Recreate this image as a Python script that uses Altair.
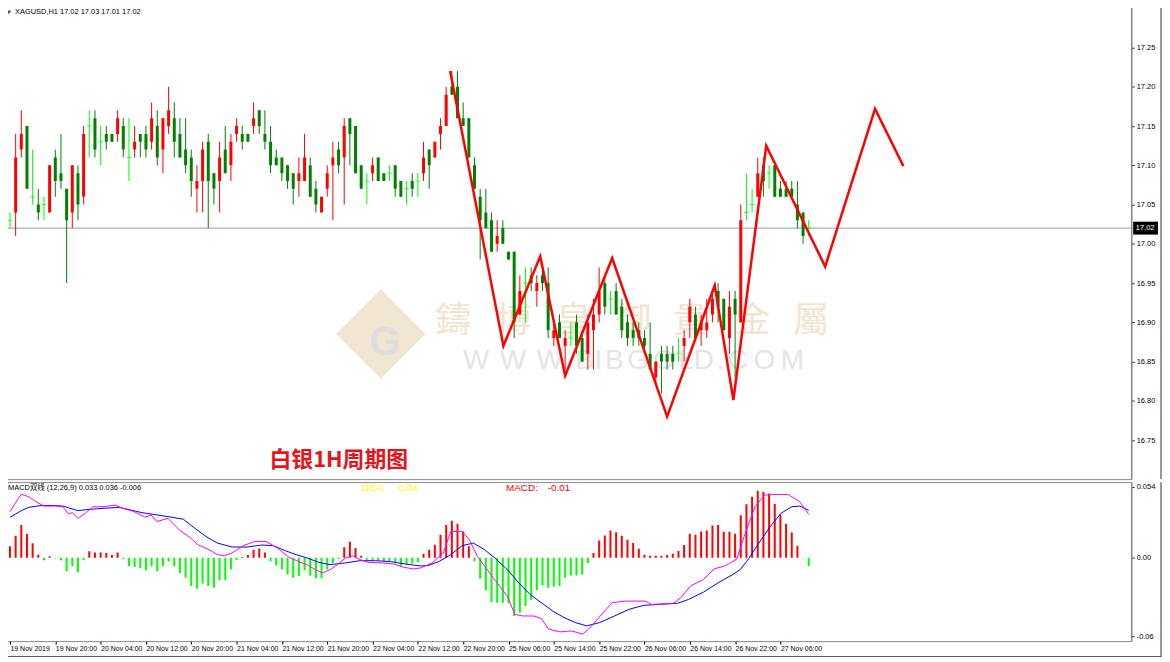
import json
import altair as alt
import pandas as pd

# ---------------- data ----------------
opens = [17.03,17.04,17.12,17.15,17.06,17.05,17.05,17.04,17.11,17.09,
         17.07,17.04,17.09,17.06,17.15,17.16,17.13,17.14,17.14,17.14,
         17.15,17.11,17.12,17.14,17.14,17.13,17.15,17.12,17.15,17.16,
         17.14,17.12,17.11,17.07,17.08,17.13,17.09,17.08,17.12,17.10,
         17.14,17.14,17.14,17.15,17.17,17.14,17.13,17.11,17.11,17.10,
         17.09,17.08,17.08,17.10,17.07,17.04,17.07,17.10,17.12,17.11,
         17.16,17.15,17.10,17.08,17.09,17.11,17.09,17.09,17.10,17.08,
         17.07,17.08,17.08,17.09,17.12,17.11,17.14,17.15,17.20,17.20,
         17.16,17.16,17.10,17.06,17.04,17.03,17.00,17.02,16.99,16.99,
         16.91,16.95,16.96,16.94,16.96,16.95,16.88,16.90,16.87,16.88,
         16.90,16.88,16.86,16.89,16.91,16.95,16.93,16.94,16.92,16.90,
         16.89,16.89,16.88,16.86,16.83,16.86,16.86,16.86,16.86,16.87,
         16.90,16.91,16.89,16.89,16.91,16.94,16.93,16.88,16.93,16.90,
         17.04,17.05,17.06,17.10,17.09,17.10,17.07,17.07,17.07,17.05,
         17.04,17.02]
highs = [17.04,17.14,17.17,17.15,17.12,17.07,17.06,17.10,17.12,17.14,
         17.07,17.10,17.10,17.15,17.17,17.17,17.15,17.15,17.14,17.17,
         17.16,17.16,17.15,17.14,17.15,17.18,17.17,17.16,17.20,17.18,
         17.16,17.16,17.12,17.10,17.13,17.14,17.09,17.13,17.15,17.14,
         17.16,17.15,17.14,17.18,17.17,17.17,17.15,17.12,17.11,17.10,
         17.09,17.11,17.14,17.11,17.08,17.06,17.10,17.13,17.13,17.16,
         17.16,17.15,17.10,17.09,17.11,17.11,17.09,17.10,17.10,17.08,
         17.08,17.09,17.09,17.13,17.12,17.13,17.16,17.20,17.22,17.22,
         17.18,17.16,17.11,17.07,17.07,17.04,17.03,17.03,16.99,16.99,
         16.96,16.97,16.97,16.96,16.97,16.97,16.90,16.91,16.89,16.90,
         16.91,16.89,16.91,16.93,16.97,16.96,16.94,16.95,16.93,16.91,
         16.90,16.90,16.89,16.90,16.85,16.87,16.87,16.87,16.88,16.89,
         16.93,16.92,16.91,16.93,16.94,16.95,16.93,16.94,16.94,17.05,
         17.09,17.07,17.11,17.11,17.10,17.10,17.08,17.08,17.08,17.08,
         17.04,17.03]
lows = [17.02,17.01,17.11,17.07,17.05,17.03,17.03,17.04,17.06,17.07,
        16.95,17.02,17.03,17.05,17.11,17.11,17.10,17.12,17.13,17.13,
        17.11,17.08,17.11,17.11,17.11,17.12,17.10,17.09,17.14,17.11,
        17.11,17.09,17.06,17.04,17.04,17.02,17.05,17.04,17.09,17.08,
        17.13,17.12,17.13,17.14,17.14,17.12,17.09,17.10,17.08,17.07,
        17.05,17.06,17.08,17.06,17.04,17.04,17.06,17.03,17.09,17.05,
        17.10,17.09,17.07,17.05,17.08,17.08,17.08,17.08,17.06,17.06,
        17.05,17.06,17.06,17.08,17.07,17.11,17.12,17.15,17.19,17.16,
        17.15,17.11,17.07,16.98,17.02,16.99,16.99,17.00,16.98,16.88,
        16.91,16.90,16.94,16.92,16.94,16.88,16.87,16.88,16.84,16.87,
        16.86,16.85,16.84,16.84,16.90,16.91,16.91,16.91,16.88,16.87,
        16.87,16.87,16.86,16.84,16.82,16.81,16.84,16.84,16.85,16.85,
        16.88,16.88,16.87,16.88,16.90,16.90,16.89,16.86,16.83,16.90,
        17.03,17.04,17.06,17.06,17.07,17.06,17.06,17.06,17.06,17.02,
        17.00,17.01]
closes = [17.03,17.11,17.14,17.07,17.06,17.04,17.05,17.10,17.08,17.08,
          17.03,17.10,17.05,17.14,17.15,17.12,17.13,17.13,17.13,17.16,
          17.12,17.11,17.13,17.13,17.12,17.16,17.11,17.16,17.17,17.13,
          17.11,17.10,17.08,17.08,17.12,17.08,17.07,17.11,17.09,17.13,
          17.15,17.13,17.13,17.16,17.15,17.13,17.10,17.10,17.09,17.08,
          17.07,17.09,17.11,17.06,17.05,17.06,17.09,17.11,17.10,17.15,
          17.14,17.09,17.07,17.08,17.10,17.08,17.08,17.09,17.07,17.06,
          17.07,17.07,17.08,17.11,17.10,17.13,17.15,17.19,17.19,17.16,
          17.15,17.11,17.07,17.03,17.02,16.99,17.01,17.00,16.98,16.90,
          16.94,16.95,16.95,16.95,16.95,16.89,16.89,16.88,16.88,16.88,
          16.87,16.85,16.90,16.91,16.94,16.92,16.93,16.91,16.89,16.88,
          16.88,16.88,16.87,16.84,16.85,16.85,16.85,16.85,16.86,16.88,
          16.92,16.88,16.90,16.90,16.93,16.92,16.89,16.92,16.91,17.03,
          17.04,17.05,17.09,17.08,17.09,17.06,17.06,17.06,17.06,17.03,
          17.01,17.02]

macd_hist = [0.0086,0.0166,0.0249,0.018,0.011,0.0023,-0.002,0.001,-0.0005,-0.002,
             -0.0103,-0.0065,-0.011,-0.002,0.0048,0.004,0.004,0.0035,0.002,0.004,
             -0.001,-0.0065,-0.007,-0.008,-0.0096,-0.0065,-0.0103,-0.0065,-0.003,-0.0065,
             -0.0116,-0.0153,-0.0216,-0.0236,-0.0196,-0.0216,-0.0229,-0.0171,-0.0171,-0.009,
             -0.002,0.0005,0.002,0.006,0.007,0.004,-0.0028,-0.006,-0.009,-0.0128,
             -0.0153,-0.014,-0.0096,-0.0136,-0.0156,-0.0156,-0.009,-0.004,-0.001,0.008,
             0.012,0.0073,0.0015,-0.0015,-0.002,-0.002,-0.0028,-0.0028,-0.0035,-0.0065,
             -0.0053,-0.0045,-0.0035,0.003,0.006,0.0098,0.0174,0.0249,0.028,0.0257,
             0.0199,0.0086,-0.0028,-0.016,-0.0247,-0.0337,-0.0342,-0.0342,-0.0347,-0.0443,
             -0.0418,-0.0367,-0.0322,-0.0247,-0.0211,-0.0229,-0.0221,-0.0216,-0.0153,-0.0136,
             -0.0136,-0.0128,-0.004,0.0035,0.0131,0.0169,0.0206,0.0194,0.0166,0.0136,
             0.0111,0.0068,0.0023,0.0015,0.0015,0.0015,0.002,0.003,0.005,0.0096,
             0.0181,0.0174,0.0199,0.0206,0.0244,0.0249,0.0196,0.0196,0.0181,0.0322,
             0.0405,0.0463,0.0508,0.0501,0.0488,0.0408,0.0325,0.0257,0.0191,0.0091,
             -0.0005,-0.0063]

dif_pos = [0,1.3,2,3.3,4.6,6,8,9.3,10.3,11,12,13.3,14.6,16.6,18.6,19.9,21.9,23.9,24.9,25.9,
           27.9,29.9,31.9,33.2,35.2,36.6,37.9,39.2,41.2,43.2,45.2,47.2,49.2,51.2,52.5,53.9,
           55.2,56.5,57.8,59.2,60.5,61.8,63.2,65.8,67.8,69.2,71.2,72.5,74.5,76.5,77.8,79.8,
           81.1,82.5,85.1,87.8,89.1,90.5,92.5,93.8,95.1,97.1,99.1,101.1,102.7,104.7,106.3,
           108.6,112.2,113.2,117.1,118.4,120.1,122.4,124.3,126.3,128.3,129.6,131.5,133.2,
           134.8,137.4,139.4,141]
dif_val = [0.035,0.0438,0.0483,0.0463,0.0425,0.0392,0.0392,0.0387,0.0332,0.0342,
           0.0299,0.0337,0.0387,0.0387,0.04,0.0375,0.035,0.0307,0.0325,0.0274,
           0.0299,0.0211,0.0148,0.0098,0.006,0.0023,0.0015,0.0035,0.0091,0.0123,
           0.0123,0.0073,0.0005,-0.0035,-0.0055,-0.0091,-0.0116,-0.0091,-0.0053,-0.0003,
           0.0015,-0.0015,-0.0035,-0.004,-0.0048,-0.007,-0.0086,-0.0078,-0.004,0.0035,
           0.0199,0.0199,0.0136,0.001,-0.0141,-0.0292,-0.043,-0.0443,-0.0443,-0.0463,
           -0.0543,-0.0564,-0.0556,-0.0581,-0.0518,-0.0418,-0.0342,-0.033,-0.033,-0.0355,
           -0.0347,-0.0304,-0.0216,-0.0166,-0.0086,-0.006,-0.001,0.0161,0.0387,0.0475,
           0.048,0.048,0.0425,0.033]

dea_pos = [0,2,3.3,5.3,7.3,9.3,12,14,16.6,19.3,21.3,23.3,25.9,28.6,30.6,32.6,34.6,36.6,39.2,
           41.9,44.5,46.5,48.5,50.5,52.5,54.5,56.5,59.2,61.8,64.5,67.2,69.8,72.5,73.8,75.8,
           77.8,79.8,81.8,83.8,85.8,87.8,89.8,91.8,93.8,95.8,97.8,99.8,101.8,104.1,106.7,
           109.3,111.9,114.5,117.8,119.8,122.4,125,127.6,128.9,130.2,132.2,134.2,136.1,138,
           139.4,141]
dea_val = [0.0307,0.0357,0.0382,0.0395,0.0397,0.0392,0.0357,0.0367,0.0375,0.0382,
           0.0362,0.0342,0.0325,0.0307,0.0292,0.0224,0.0161,0.0111,0.0081,0.0081,
           0.0096,0.0091,0.0055,0.0023,-0.0003,-0.0035,-0.0053,-0.004,-0.0023,-0.0023,
           -0.003,-0.0048,-0.0063,-0.006,-0.0028,0.0023,0.0091,0.0111,0.006,-0.001,
           -0.0091,-0.0191,-0.0279,-0.0342,-0.0405,-0.0455,-0.0493,-0.0518,-0.0493,-0.0443,
           -0.0392,-0.0362,-0.0355,-0.0347,-0.0317,-0.0262,-0.0191,-0.0128,-0.0091,-0.002,
           0.0111,0.0236,0.0337,0.0387,0.0392,0.036]

zigzag_pos = [77.7, 87.1, 93.6, 98.0, 106.3, 116.0, 124.4, 127.7, 133.5, 143.9, 152.7, 157.7]
zigzag_price = [17.22, 16.87, 16.984, 16.832, 16.982, 16.78, 16.947, 16.801, 17.125, 16.971, 17.172, 17.099]

time_labels = ['19 Nov 2019', '19 Nov 20:00', '20 Nov 04:00', '20 Nov 12:00', '20 Nov 20:00',
               '21 Nov 04:00', '21 Nov 12:00', '21 Nov 20:00', '22 Nov 04:00', '22 Nov 12:00',
               '22 Nov 20:00', '25 Nov 06:00', '25 Nov 14:00', '25 Nov 22:00', '26 Nov 06:00',
               '26 Nov 14:00', '26 Nov 22:00', '27 Nov 06:00']
price_ticks = [16.75, 16.80, 16.85, 16.90, 16.95, 17.00, 17.05, 17.10, 17.15, 17.20, 17.25]
macd_ticks = [0.054, 0.0, -0.06]
last_price = 17.02
header_text = 'XAGUSD,H1  17.02 17.03 17.01 17.02'
macd_header = 'MACD双线 (12,26,9) 0.033 0.036 -0.006'
title_text = '白银1H周期图'
watermark_cn = ['鑄', '博', '皇', '御', '貴', '金', '屬']
watermark_en = list('WWW.BIBGOLD.COM')

# ---------------- frames ----------------
n = len(opens)
def direction(o, c):
    if c > o:
        return 'up'
    if c < o:
        return 'down'
    return 'doji'

candles = pd.DataFrame({
    'i': list(range(n)), 'o': opens, 'h': highs, 'l': lows, 'c': closes,
    'dir': [direction(o, c) for o, c in zip(opens, closes)],
})
hist_df = pd.DataFrame({'i': list(range(n)), 'v': macd_hist,
                        'sgn': ['pos' if v >= 0 else 'neg' for v in macd_hist]})
dif_df = pd.DataFrame({'pos': dif_pos, 'v': dif_val})
dea_df = pd.DataFrame({'pos': dea_pos, 'v': dea_val})
zz_df = pd.DataFrame({'pos': zigzag_pos, 'p': zigzag_price, 'k': list(range(len(zigzag_pos)))})
one = pd.DataFrame({'k': [0]})

# ---------------- scales / axes ----------------
W = 1134
H_TOP = 475
H_MACD = 160
FONT = 'Liberation Sans'
CJK = 'Noto Sans CJK SC'

x_scale = alt.Scale(domain=[-0.174, 197.04], nice=False, zero=False)
y_price = alt.Scale(domain=[16.7004, 17.3016], nice=False, zero=False)
y_macd = alt.Scale(domain=[-0.0634, 0.0574], nice=False, zero=False)

price_axis = alt.Axis(orient='right', values=price_ticks, format='.2f', title=None, grid=False,
                      domain=True, domainColor='#8a8a8a', domainWidth=1.5, ticks=True, tickSize=3,
                      tickColor='#222', labelFont=FONT, labelFontSize=7.5, labelColor='#000',
                      labelPadding=2)
macd_axis = alt.Axis(orient='right', values=macd_ticks, title=None, grid=False,
                     labelExpr="datum.value > 0.04 ? '0.054' : (datum.value < -0.04 ? '-0.06' : '0.00')",
                     domain=True, domainColor='#8a8a8a', domainWidth=1.5, ticks=True, tickSize=3,
                     tickColor='#222', labelFont=FONT, labelFontSize=7.5, labelColor='#000',
                     labelPadding=2)
time_axis = alt.Axis(orient='bottom', values=list(range(0, 8 * len(time_labels), 8)),
                     labelExpr=json.dumps(time_labels) + '[round(datum.value/8)]',
                     labelAlign='left', labelBaseline='top', labelPadding=0, tickSize=3,
                     tickColor='#000', domain=False, grid=False, title=None, labelFont=FONT,
                     labelFontSize=7, labelColor='#000', labelOverlap=False, labelFlush=False)

def XT(field):
    return alt.X(field, type='quantitative', scale=x_scale, axis=None)

def YP(field):
    return alt.Y(field, type='quantitative', scale=y_price, axis=price_axis)

def XM(field):
    return alt.X(field, type='quantitative', scale=x_scale, axis=time_axis)

def YM(field):
    return alt.Y(field, type='quantitative', scale=y_macd, axis=macd_axis)

candle_color = alt.Color('dir:N', legend=None,
                         scale=alt.Scale(domain=['up', 'down', 'doji'],
                                         range=['#ff0000', '#008000', '#00ff00']))

# ---------------- top panel ----------------
layers = []
# watermark logo
layers.append(alt.Chart(one).mark_point(
    shape='M0,-1L1,0L0,1L-1,0Z', filled=True, color='#f1e6d2', opacity=1, size=8100
).encode(x=alt.value(379), y=alt.value(329)))
layers.append(alt.Chart(one).mark_text(
    text='G', font=FONT, fontSize=40, fontWeight='bold', color='#dedede', align='center', baseline='middle'
).encode(x=alt.value(383), y=alt.value(338)))
cn_x = [452, 513, 573, 633, 691, 753, 812]
for ch, xv in zip(watermark_cn, cn_x):
    layers.append(alt.Chart(one).mark_text(
        text=ch, font='Noto Sans CJK TC', fontSize=36, color='#f2e4d0', align='center', baseline='middle'
    ).encode(x=alt.value(xv), y=alt.value(316)))
en_x = [475, 512, 549, 569, 584, 598, 614, 638, 664, 686, 704, 721, 738, 765, 793]
for ch, xv in zip(watermark_en, en_x):
    layers.append(alt.Chart(one).mark_text(
        text=ch, font=FONT, fontSize=28, color='#e4e4e4', align='center', baseline='middle'
    ).encode(x=alt.value(xv), y=alt.value(356)))

# current price line
layers.append(alt.Chart(pd.DataFrame({'p': [last_price]})).mark_rule(
    color='#8f9cab', strokeWidth=1, clip=True).encode(y=YP('p')))
# wicks
layers.append(alt.Chart(candles).mark_rule(strokeWidth=1, clip=True).encode(
    x=XT('i'), y=YP('l'), y2='h:Q', color=candle_color))
# bodies
layers.append(alt.Chart(candles[candles['dir'] != 'doji']).mark_bar(size=3, clip=True).encode(
    x=XT('i'), y=YP('o'), y2='c:Q', color=candle_color))
# doji
layers.append(alt.Chart(candles[candles['dir'] == 'doji']).mark_tick(
    orient='horizontal', size=5, thickness=1, clip=True).encode(x=XT('i'), y=YP('o'), color=candle_color))
# zigzag
layers.append(alt.Chart(zz_df).mark_line(color='#ff0000', strokeWidth=2.5, strokeJoin='miter',
                                         clip=True).encode(x=XT('pos'), y=YP('p'), order='k:Q'))
# header
layers.append(alt.Chart(one).mark_point(shape='triangle-down', filled=True, color='#000', size=18).encode(
    x=alt.value(5), y=alt.value(5.5)))
layers.append(alt.Chart(one).mark_text(
    text=header_text, font=FONT, fontSize=7.5, color='#000', align='left', baseline='middle'
).encode(x=alt.value(11), y=alt.value(5.5)))
# title
layers.append(alt.Chart(one).mark_text(
    text=title_text, font=CJK, fontSize=22, fontWeight='bold', color='#e8121a', align='left', baseline='middle'
).encode(x=alt.value(267), y=alt.value(456)))
# price tag
layers.append(alt.Chart(one).mark_rect(color='#000').encode(
    x=alt.value(1136), x2=alt.value(1161), y=alt.value(216), y2=alt.value(229)))
layers.append(alt.Chart(pd.DataFrame({'p': [last_price]})).mark_text(
    font=FONT, fontSize=7.5, color='#fff', align='center', baseline='middle'
).encode(x=alt.value(1148), y=YP('p'), text=alt.Text('p:Q', format='.2f')))
# window frame at the right
layers.append(alt.Chart(one).mark_rule(color='#333333', strokeWidth=1).encode(
    x=alt.value(1164), y=alt.value(1), y2=alt.value(H_TOP)))

top = alt.layer(*layers).properties(width=W, height=H_TOP)

# ---------------- MACD panel ----------------
mlayers = []
mlayers.append(alt.Chart(hist_df).mark_bar(size=2, clip=True).encode(
    x=XM('i'), y=YM('v'), y2=alt.datum(0),
    color=alt.Color('sgn:N', legend=None,
                    scale=alt.Scale(domain=['pos', 'neg'], range=['#ff0000', '#00ff00']))))
mlayers.append(alt.Chart(dea_df).mark_line(color='#0000ff', strokeWidth=1, clip=True).encode(
    x=XM('pos'), y=YM('v')))
mlayers.append(alt.Chart(dif_df).mark_line(color='#ff00ff', strokeWidth=1, clip=True).encode(
    x=XM('pos'), y=YM('v')))
mlayers.append(alt.Chart(one).mark_text(
    text=macd_header, font=FONT + ', ' + CJK, fontSize=7.5, color='#000', align='left', baseline='middle'
).encode(x=alt.value(4), y=alt.value(6)))
for txt, xv, col in [('DEA:', 360, '#ffff00'), ('0.04', 397, '#ffff00'),
                     ('MACD:', 505, '#ff0000'), ('-0.01', 547, '#ff0000')]:
    mlayers.append(alt.Chart(one).mark_text(
        text=txt, font=FONT, fontSize=10, color=col, align='left', baseline='middle'
    ).encode(x=alt.value(xv), y=alt.value(6)))
# window frame at right and tab bar line at the bottom
mlayers.append(alt.Chart(one).mark_rule(color='#333333', strokeWidth=1).encode(
    x=alt.value(1164), y=alt.value(0), y2=alt.value(176)))
mlayers.append(alt.Chart(one).mark_rule(color='#555555', strokeWidth=1).encode(
    x=alt.value(0), x2=alt.value(1164), y=alt.value(175.5)))

bottom = alt.layer(*mlayers).properties(width=W, height=H_MACD)

chart = alt.vconcat(top, bottom, spacing=3, bounds='flush').resolve_scale(
    color='independent', x='independent', y='independent'
).properties(
    padding={'left': -5, 'top': -4, 'right': 0, 'bottom': 0},
    background='#ffffff'
).configure_view(stroke='#8a8a8a', strokeWidth=1)

chart.save('out.html', embed_options={'renderer': 'svg', 'actions': False})
